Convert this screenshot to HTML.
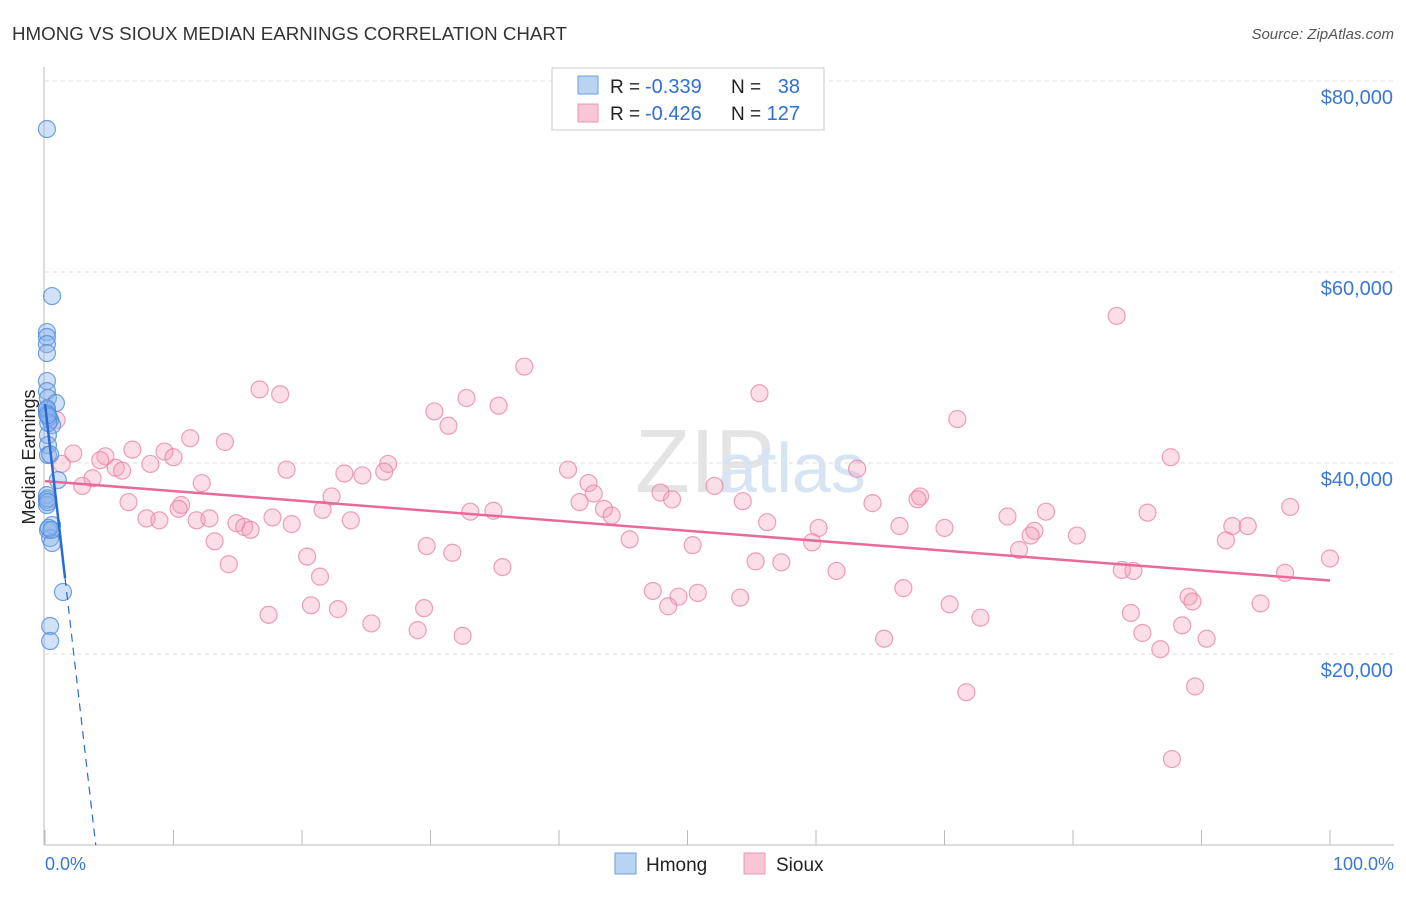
<!DOCTYPE html>
<html><head><meta charset="utf-8"><style>
body{margin:0;background:#fff;font-family:"Liberation Sans",sans-serif;}
svg text{font-family:"Liberation Sans",sans-serif;}
</style></head><body>
<svg id="c" width="1406" height="892" xmlns="http://www.w3.org/2000/svg">
<text x="12" y="40" font-size="18" fill="#333" textLength="555" lengthAdjust="spacingAndGlyphs">HMONG VS SIOUX MEDIAN EARNINGS CORRELATION CHART</text>
<text x="1394" y="39" font-size="15" fill="#555" font-style="italic" text-anchor="end">Source: ZipAtlas.com</text>
<text x="635" y="492" font-size="90" fill="#e4e4e4" font-family="Liberation Serif">ZIP</text>
<text x="718" y="492" font-size="70" fill="#d6e4f4">atlas</text>
<text transform="translate(35,457) rotate(-90)" font-size="18" fill="#222" text-anchor="middle">Median Earnings</text>
<g id="grid"></g><g id="pts"></g><g id="lines"></g>
<g>
<rect x="552" y="68" width="272" height="62" fill="#fff" stroke="#ccc"/>
<rect x="578" y="76" width="20" height="18" fill="#b9d3f3" stroke="#6f9fdc"/>
<rect x="578" y="104" width="20" height="18" fill="#f8c6d5" stroke="#e99ab2"/>
<text x="610" y="93" font-size="19" fill="#222">R =</text>
<text x="645" y="93" font-size="20" fill="#2f6fd6">-0.339</text>
<text x="731" y="93" font-size="19" fill="#222">N =</text>
<text x="800" y="93" font-size="20" fill="#2f6fd6" text-anchor="end">38</text>
<text x="610" y="120" font-size="19" fill="#222">R =</text>
<text x="645" y="120" font-size="20" fill="#2f6fd6">-0.426</text>
<text x="731" y="120" font-size="19" fill="#222">N =</text>
<text x="800" y="120" font-size="20" fill="#2f6fd6" text-anchor="end">127</text>
</g>
<g>
<rect x="615" y="853" width="21" height="21" fill="#b9d3f3" stroke="#6f9fdc"/>
<text x="646" y="871" font-size="19" fill="#222">Hmong</text>
<rect x="744" y="853" width="21" height="21" fill="#f8c6d5" stroke="#e99ab2"/>
<text x="776" y="871" font-size="19" fill="#222">Sioux</text>
</g>
<text x="45" y="870" font-size="18" fill="#3a78d8">0.0%</text>
<text x="1394" y="870" font-size="18" fill="#3a78d8" text-anchor="end">100.0%</text>
</svg>
<script>
const hmongX=[0.15,0.55,0.15,0.15,0.15,0.15,0.15,0.15,0.23,0.85,0.15,0.23,0.4,0.55,0.23,0.23,0.23,1.0,0.15,0.15,0.15,0.55,0.23,0.4,0.55,1.4,0.4,0.4,0.15,0.15,0.3,0.3,0.2,0.2,0.5,0.4,0.25,0.2];
const hmongY=[74.97,57.48,53.71,53.19,52.45,51.51,48.58,47.53,46.8,46.28,45.54,45.02,44.5,43.97,42.93,41.88,40.83,38.21,36.64,36.12,35.6,33.5,32.98,32.14,31.62,26.49,22.93,21.36,45.2,45.7,44.8,33.2,36.3,35.9,33.0,40.9,44.2,45.0];
const siouxX=[83.4,37.3,16.7,18.3,55.6,30.3,32.8,35.3,71.0,31.4,0.9,11.3,14.0,6.8,9.3,10.0,4.7,4.3,1.3,5.5,6.0,8.2,2.2,18.8,26.7,26.4,23.3,24.7,40.7,63.2,87.6,3.7,2.9,12.2,42.3,42.7,47.9,48.8,52.1,22.3,6.5,10.6,10.4,41.6,43.5,44.1,54.3,64.4,68.1,67.9,33.1,34.9,21.6,7.9,8.9,11.8,12.8,14.9,15.5,16.0,17.7,19.2,23.8,56.2,60.2,66.5,70.0,74.9,77.9,85.8,77.0,76.7,96.9,92.4,93.6,91.9,80.3,45.5,59.7,50.4,13.2,29.7,31.7,20.4,14.3,55.3,57.3,35.6,21.4,61.6,75.8,100,84.7,83.8,96.5,47.3,50.8,49.3,54.1,48.5,66.8,20.7,22.8,17.4,29.5,70.4,94.6,89.0,89.3,84.5,72.8,25.4,29.0,32.5,65.3,85.4,88.5,90.4,86.8,71.7,89.5,87.7];
const siouxY=[55.4,50.1,47.7,47.2,47.3,45.4,46.8,46.0,44.6,43.9,44.5,42.6,42.2,41.4,41.2,40.6,40.7,40.3,39.9,39.5,39.2,39.9,41.0,39.3,39.9,39.1,38.9,38.7,39.3,39.4,40.6,38.4,37.6,37.9,37.9,36.8,36.9,36.2,37.6,36.5,35.9,35.6,35.2,35.9,35.2,34.5,36.0,35.8,36.5,36.2,34.9,35.0,35.1,34.2,34.0,34.0,34.2,33.7,33.3,33.0,34.3,33.6,34.0,33.8,33.2,33.4,33.2,34.4,34.9,34.8,32.9,32.4,35.4,33.4,33.4,31.9,32.4,32.0,31.7,31.4,31.8,31.3,30.6,30.2,29.4,29.7,29.6,29.1,28.1,28.7,30.9,30.0,28.7,28.8,28.5,26.6,26.4,26.0,25.9,25.0,26.9,25.1,24.7,24.1,24.8,25.2,25.3,26.0,25.5,24.3,23.8,23.2,22.5,21.9,21.6,22.2,23.0,21.6,20.5,16.0,16.6,9.0];
const yTicks=[20,40,60,80];
const yTickLabels=["$20,000","$40,000","$60,000","$80,000"];
const siouxTrend=[38.1,27.7];
const hmongTrend=[46.2,-11.7];
const X=v=>45+v*12.85, Y=v=>845-v*9.55;
const NS="http://www.w3.org/2000/svg";
function mk(p,t,a){const e=document.createElementNS(NS,t);for(const k in a)e.setAttribute(k,a[k]);p.appendChild(e);return e;}
const grid=document.getElementById('grid'),pts=document.getElementById('pts'),lines=document.getElementById('lines');
mk(grid,'line',{x1:44,y1:67,x2:44,y2:845,stroke:'#bbb'});
mk(grid,'line',{x1:44,y1:845,x2:1394,y2:845,stroke:'#bbb'});
for(let i=0;i<=10;i++){const l=mk(grid,'line',{x1:X(i*10),y1:830,x2:X(i*10),y2:845,stroke:'#bbb'});

}
yTicks.forEach((t,i)=>{const l=mk(grid,'line',{x1:45,y1:Y(t),x2:1394,y2:Y(t),stroke:'#ddd','stroke-dasharray':'4,4'});


const tx=mk(grid,'text',{x:1393,y:Y(t)+23,'font-size':20,fill:'#3a78d8','text-anchor':'end'});tx.textContent=yTickLabels[i];

});
siouxX.forEach((x,i)=>{const c=mk(pts,'circle',{cx:X(x),cy:Y(siouxY[i]),r:8.5,fill:'rgba(244,160,187,0.35)',stroke:'rgba(232,130,162,0.75)','stroke-width':1.2});

});
hmongX.forEach((x,i)=>{const c=mk(pts,'circle',{cx:X(x),cy:Y(hmongY[i]),r:8.5,fill:'rgba(140,180,235,0.4)',stroke:'rgba(80,140,220,0.8)','stroke-width':1.2});

});
const sl=mk(lines,'line',{x1:X(0),y1:Y(siouxTrend[0]),x2:X(100),y2:Y(siouxTrend[1]),stroke:'#e8699a','stroke-width':2.5});


const hx=1.56,hz=-hmongTrend[0]/hmongTrend[1];
const hl=mk(lines,'line',{x1:X(0),y1:Y(hmongTrend[0]),x2:X(hx),y2:Y(hmongTrend[0]+hmongTrend[1]*hx),stroke:'#2a6ad6','stroke-width':2.5});


const hd=mk(lines,'line',{x1:X(hx),y1:Y(hmongTrend[0]+hmongTrend[1]*hx),x2:X(hz),y2:Y(0),stroke:'#2a6ad6','stroke-width':1.2,'stroke-dasharray':'8,6'});


</script>
</body></html>
